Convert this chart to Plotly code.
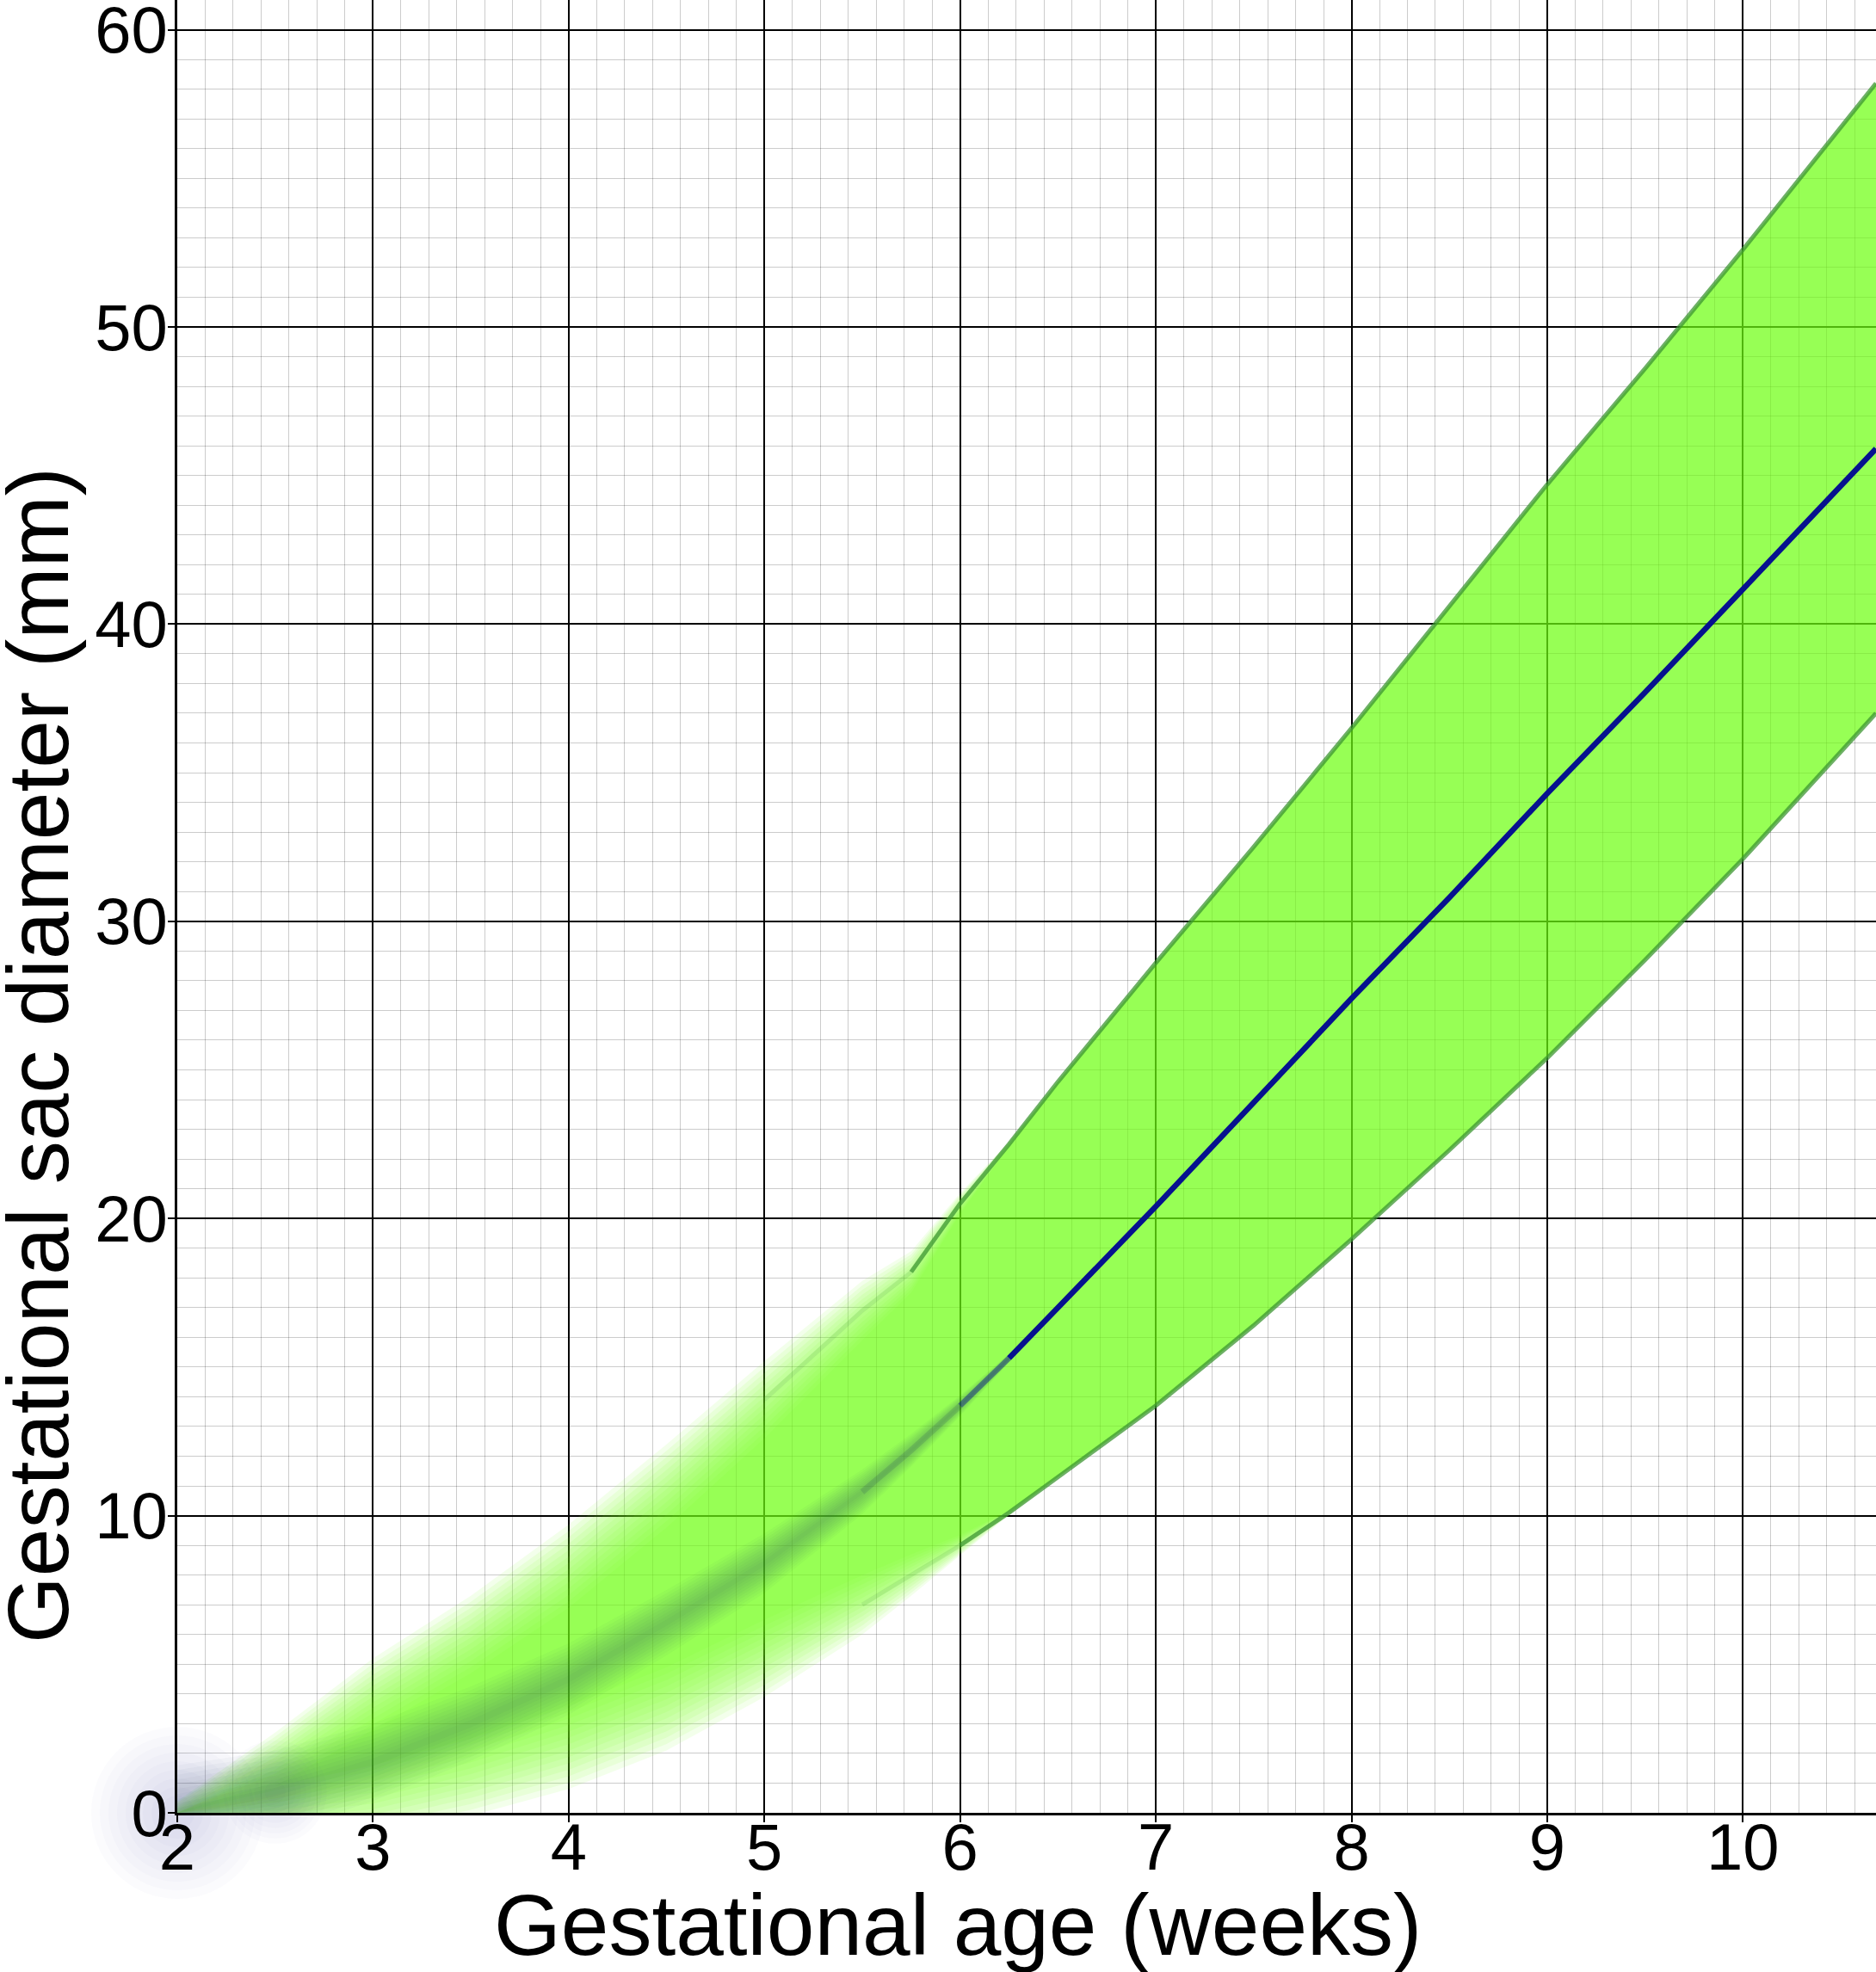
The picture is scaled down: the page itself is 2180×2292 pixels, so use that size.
import numpy as np
import plotly.graph_objects as go

# gestational sac diameter reference band
weeks = [2.0, 2.5, 3.0, 3.5, 4.0, 4.5, 5.0, 5.5, 5.75, 6.0, 6.25, 6.5, 7.0, 7.5, 8.0, 8.5, 9.0, 9.5, 10.0, 10.68]
median = [0.0, 0.7, 1.7, 3.0, 4.5, 6.4, 8.4, 10.8, 12.2, 13.7, 15.3, 17.0, 20.4, 23.9, 27.4, 30.8, 34.3, 37.7, 41.2, 45.9]
upper = [0.0, 1.8, 4.0, 6.0, 8.3, 11.0, 13.9, 16.9, 18.2, 20.5, 22.5, 24.6, 28.6, 32.5, 36.5, 40.6, 44.7, 48.6, 52.6, 58.2]
lower = [0.0, 0.0, 0.4, 1.2, 2.2, 3.5, 5.2, 7.0, 8.0, 9.0, 10.1, 11.3, 13.7, 16.4, 19.3, 22.3, 25.4, 28.7, 32.1, 37.0]

# how soft (mm) the drawing is at each week: the early part is blurred out
band_blur = [0.4, 0.9, 1.2, 1.3, 1.4, 1.4, 1.3, 1.0, 0.7, 0.35, 0.08, 0, 0, 0, 0, 0, 0, 0, 0, 0]
median_blur = [1.6, 1.4, 1.3, 1.25, 1.2, 1.1, 1.0, 0.75, 0.55, 0.35, 0.15, 0, 0, 0, 0, 0, 0, 0, 0, 0]

FONT = 'Liberation Sans, Arial, sans-serif'
GREEN = (115, 255, 20)
NAVY = (6, 17, 143)
HAZE = (25, 60, 85)   # navy smeared into green

w = np.array(weeks)
up = np.array(upper)
lo = np.array(lower)
md = np.array(median)
mid = (up + lo) / 2
rb = np.array(band_blur)
rm = np.array(median_blur)

fig = go.Figure()

# band: stacked translucent layers give the soft edge where blur > 0
K = 14
a = 1 - 0.28 ** (1 / K)
for o in np.linspace(-1, 1, K):
    u = np.maximum(up - o * rb, mid)
    l = np.minimum(lo + o * rb, mid)
    fig.add_trace(go.Scatter(x=np.r_[w, w[::-1]], y=np.r_[u, l[::-1]], mode='lines', fill='toself',
                             fillcolor='rgba(%d,%d,%d,%.3f)' % (*GREEN, a), line=dict(width=0),
                             hoverinfo='skip', showlegend=False))

# blurred median (early weeks)
Km = 10
for f in np.linspace(1 / Km, 1, Km):
    fig.add_trace(go.Scatter(x=np.r_[w, w[::-1]], y=np.r_[md + f * rm, (md - f * rm)[::-1]], mode='lines',
                             fill='toself', fillcolor='rgba(%d,%d,%d,0.032)' % HAZE, line=dict(width=0),
                             hoverinfo='skip', showlegend=False))

# bluish glow at the origin, spilling over the axes: concentric faint discs
for s in (200, 180, 160, 140, 120, 100, 80, 60, 40):
    fig.add_trace(go.Scatter(x=w[:2], y=md[:2], mode='markers', cliponaxis=False, hoverinfo='skip',
                             showlegend=False,
                             marker=dict(size=[s, s * 0.6], color='rgba(80,90,190,0.035)', line=dict(width=0))))


def seg(x, y, i0, i1, color, alpha, width):
    fig.add_trace(go.Scatter(x=x[i0:i1], y=y[i0:i1], mode='lines', hoverinfo='skip', showlegend=False,
                             line=dict(color='rgba(%d,%d,%d,%.2f)' % (*color, alpha), width=width)))


EDGE = (60, 150, 50)
i5, i55, i575, i6, i625 = (weeks.index(v) for v in (5.0, 5.5, 5.75, 6.0, 6.25))
seg(w, up, i5, i575 + 1, EDGE, 0.15, 5)
seg(w, up, i575, None, EDGE, 0.75, 5)
seg(w, lo, i55, i6 + 1, EDGE, 0.15, 5)
seg(w, lo, i6, None, EDGE, 0.75, 5)
seg(w, md, i55, i6 + 1, HAZE, 0.15, 7)
seg(w, md, i6, i625 + 1, NAVY, 0.45, 6.5)
seg(w, md, i625, None, NAVY, 1.0, 6.5)

W, H = 2180, 2292
L, B = 206, 185
PH = H - B
axis_style = dict(showgrid=True, gridcolor='black', gridwidth=2, showline=True, linecolor='black', linewidth=3,
                  ticks='outside', ticklen=8, tickwidth=2, tickcolor='black', zeroline=False, automargin=False,
                  ticklabeloverflow='allow', tickfont=dict(family=FONT, size=76, color='black'))
fig.update_xaxes(range=[2, 10.68], tick0=2, dtick=1, ticklabelstandoff=-36,
                 minor=dict(tick0=2, dtick=1 / 7, showgrid=True, gridcolor='rgba(0,0,0,0.2)', gridwidth=1.2),
                 **axis_style)
fig.update_yaxes(range=[0, 61], tick0=0, dtick=10, ticklabelstandoff=-15,
                 minor=dict(tick0=0, dtick=1, showgrid=True, gridcolor='rgba(0,0,0,0.2)', gridwidth=1.2),
                 **axis_style)

fig.add_annotation(text='Gestational age (weeks)', xref='paper', yref='paper', showarrow=False,
                   x=(1113 - L) / (W - L), y=(PH - 2237) / PH, xanchor='center', yanchor='middle',
                   font=dict(family=FONT, size=100, color='black'))
fig.add_annotation(text='Gestational sac diameter (mm)', xref='paper', yref='paper', showarrow=False,
                   textangle=-90, x=(44 - L) / (W - L), y=(PH - 1227) / PH, xanchor='center', yanchor='middle',
                   font=dict(family=FONT, size=100, color='black'))

fig.update_layout(width=W, height=H, margin=dict(l=L, r=0, t=0, b=B, pad=0),
                  plot_bgcolor='white', paper_bgcolor='white', showlegend=False)
fig.write_html('out.html', config={'displayModeBar': False},
               post_script="document.body.style.margin='0px';")
